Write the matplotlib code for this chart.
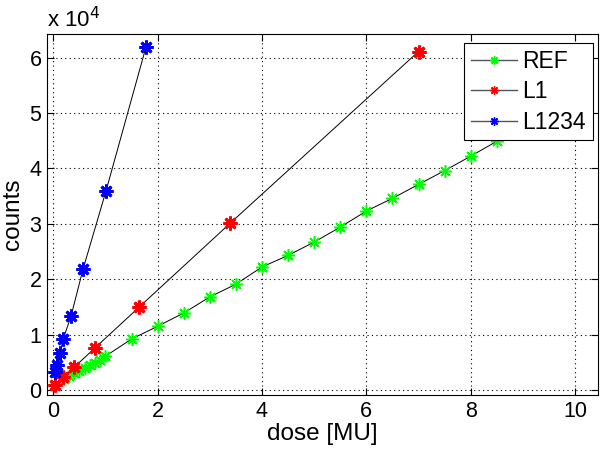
import matplotlib
matplotlib.use("Agg")
import matplotlib.pyplot as plt
from matplotlib.ticker import FuncFormatter, MultipleLocator
from matplotlib.lines import Line2D

plt.rcParams['font.family'] = ['Liberation Sans', 'DejaVu Sans']

# REF (green)
ref_dose = [0.2, 0.3, 0.4, 0.5, 0.6, 0.7, 0.8, 0.9, 1.0, 1.5, 2.0, 2.5, 3.0, 3.5,
            4.0, 4.5, 5.0, 5.5, 6.0, 6.5, 7.0, 7.5, 8.0, 8.5]
ref_counts = [2000, 2500, 3100, 3400, 4000, 4500, 4900, 5400, 6100, 9200, 11500, 13900,
              16800, 19100, 22200, 24300, 26700, 29400, 32300, 34600, 37100, 39600,
              42200, 44900]
# L1 (red)
l1_dose = [0.04, 0.19, 0.40, 0.80, 1.65, 3.39, 7.00]
l1_counts = [900, 2300, 4100, 7600, 15000, 30100, 61100]
# L1234 (blue)
l1234_dose = [0.04, 0.08, 0.13, 0.19, 0.34, 0.57, 1.01, 1.78]
l1234_counts = [3200, 4500, 6700, 9200, 13300, 21800, 35900, 62000]

labels = ['REF', 'L1', 'L1234']
colors = ['#00ff00', '#ff0000', '#0000ff']

AST = (8, 2, 0)  # 8-armed asterisk like MATLAB '*'

fig = plt.figure(figsize=(6.0, 4.51), dpi=100)
ax = fig.add_axes([47/600, 56/451, (598-47)/600, (395-34)/451])

ax.plot(ref_dose, ref_counts, '-', color='k', lw=0.7, marker=AST,
        mfc=colors[0], mec=colors[0], ms=9, mew=1.1)
ax.plot(l1_dose, l1_counts, '-', color='k', lw=0.7, marker=AST,
        mfc=colors[1], mec=colors[1], ms=10, mew=2.0)
ax.plot(l1234_dose, l1234_counts, '-', color='k', lw=0.7, marker=AST,
        mfc=colors[2], mec=colors[2], ms=10, mew=2.0)

ax.set_xlim(-0.12, 10.44)
ax.set_ylim(-900, 64260)
ax.xaxis.set_major_locator(MultipleLocator(2))
ax.set_yticks([i * 10000 for i in range(7)])
ax.yaxis.set_major_formatter(FuncFormatter(lambda v, p: f"{v/1e4:g}"))

ax.grid(True, linestyle=(0, (1, 3)), color='k', lw=0.8)
ax.tick_params(direction='in', top=True, right=True, labelsize=15.5, length=5,
               width=0.8, pad=4)
for s in ax.spines.values():
    s.set_linewidth(0.8)

ax.set_xlabel('dose [MU]', fontsize=17.5, labelpad=1)
ax.set_ylabel('counts', fontsize=17.5, labelpad=4)

fig.text(47/600, 1 - 27/451, r'x 10$^{4}$', fontsize=16, ha='left', va='baseline')

handles = [Line2D([0], [0], color='#555555', lw=1.0, marker=AST, ms=6,
                  mfc=c, mec=c, mew=1.0) for c in colors]
leg = ax.legend(handles, labels, loc='upper right', fontsize=16.5,
                bbox_to_anchor=(593/600, 1 - 43/451), bbox_transform=fig.transFigure,
                fancybox=False, framealpha=1, edgecolor='k', borderpad=0.3,
                handlelength=2.0, handletextpad=0.25, labelspacing=0.32,
                borderaxespad=0)
leg.get_frame().set_linewidth(0.8)

fig.savefig('out.png', dpi=100)
